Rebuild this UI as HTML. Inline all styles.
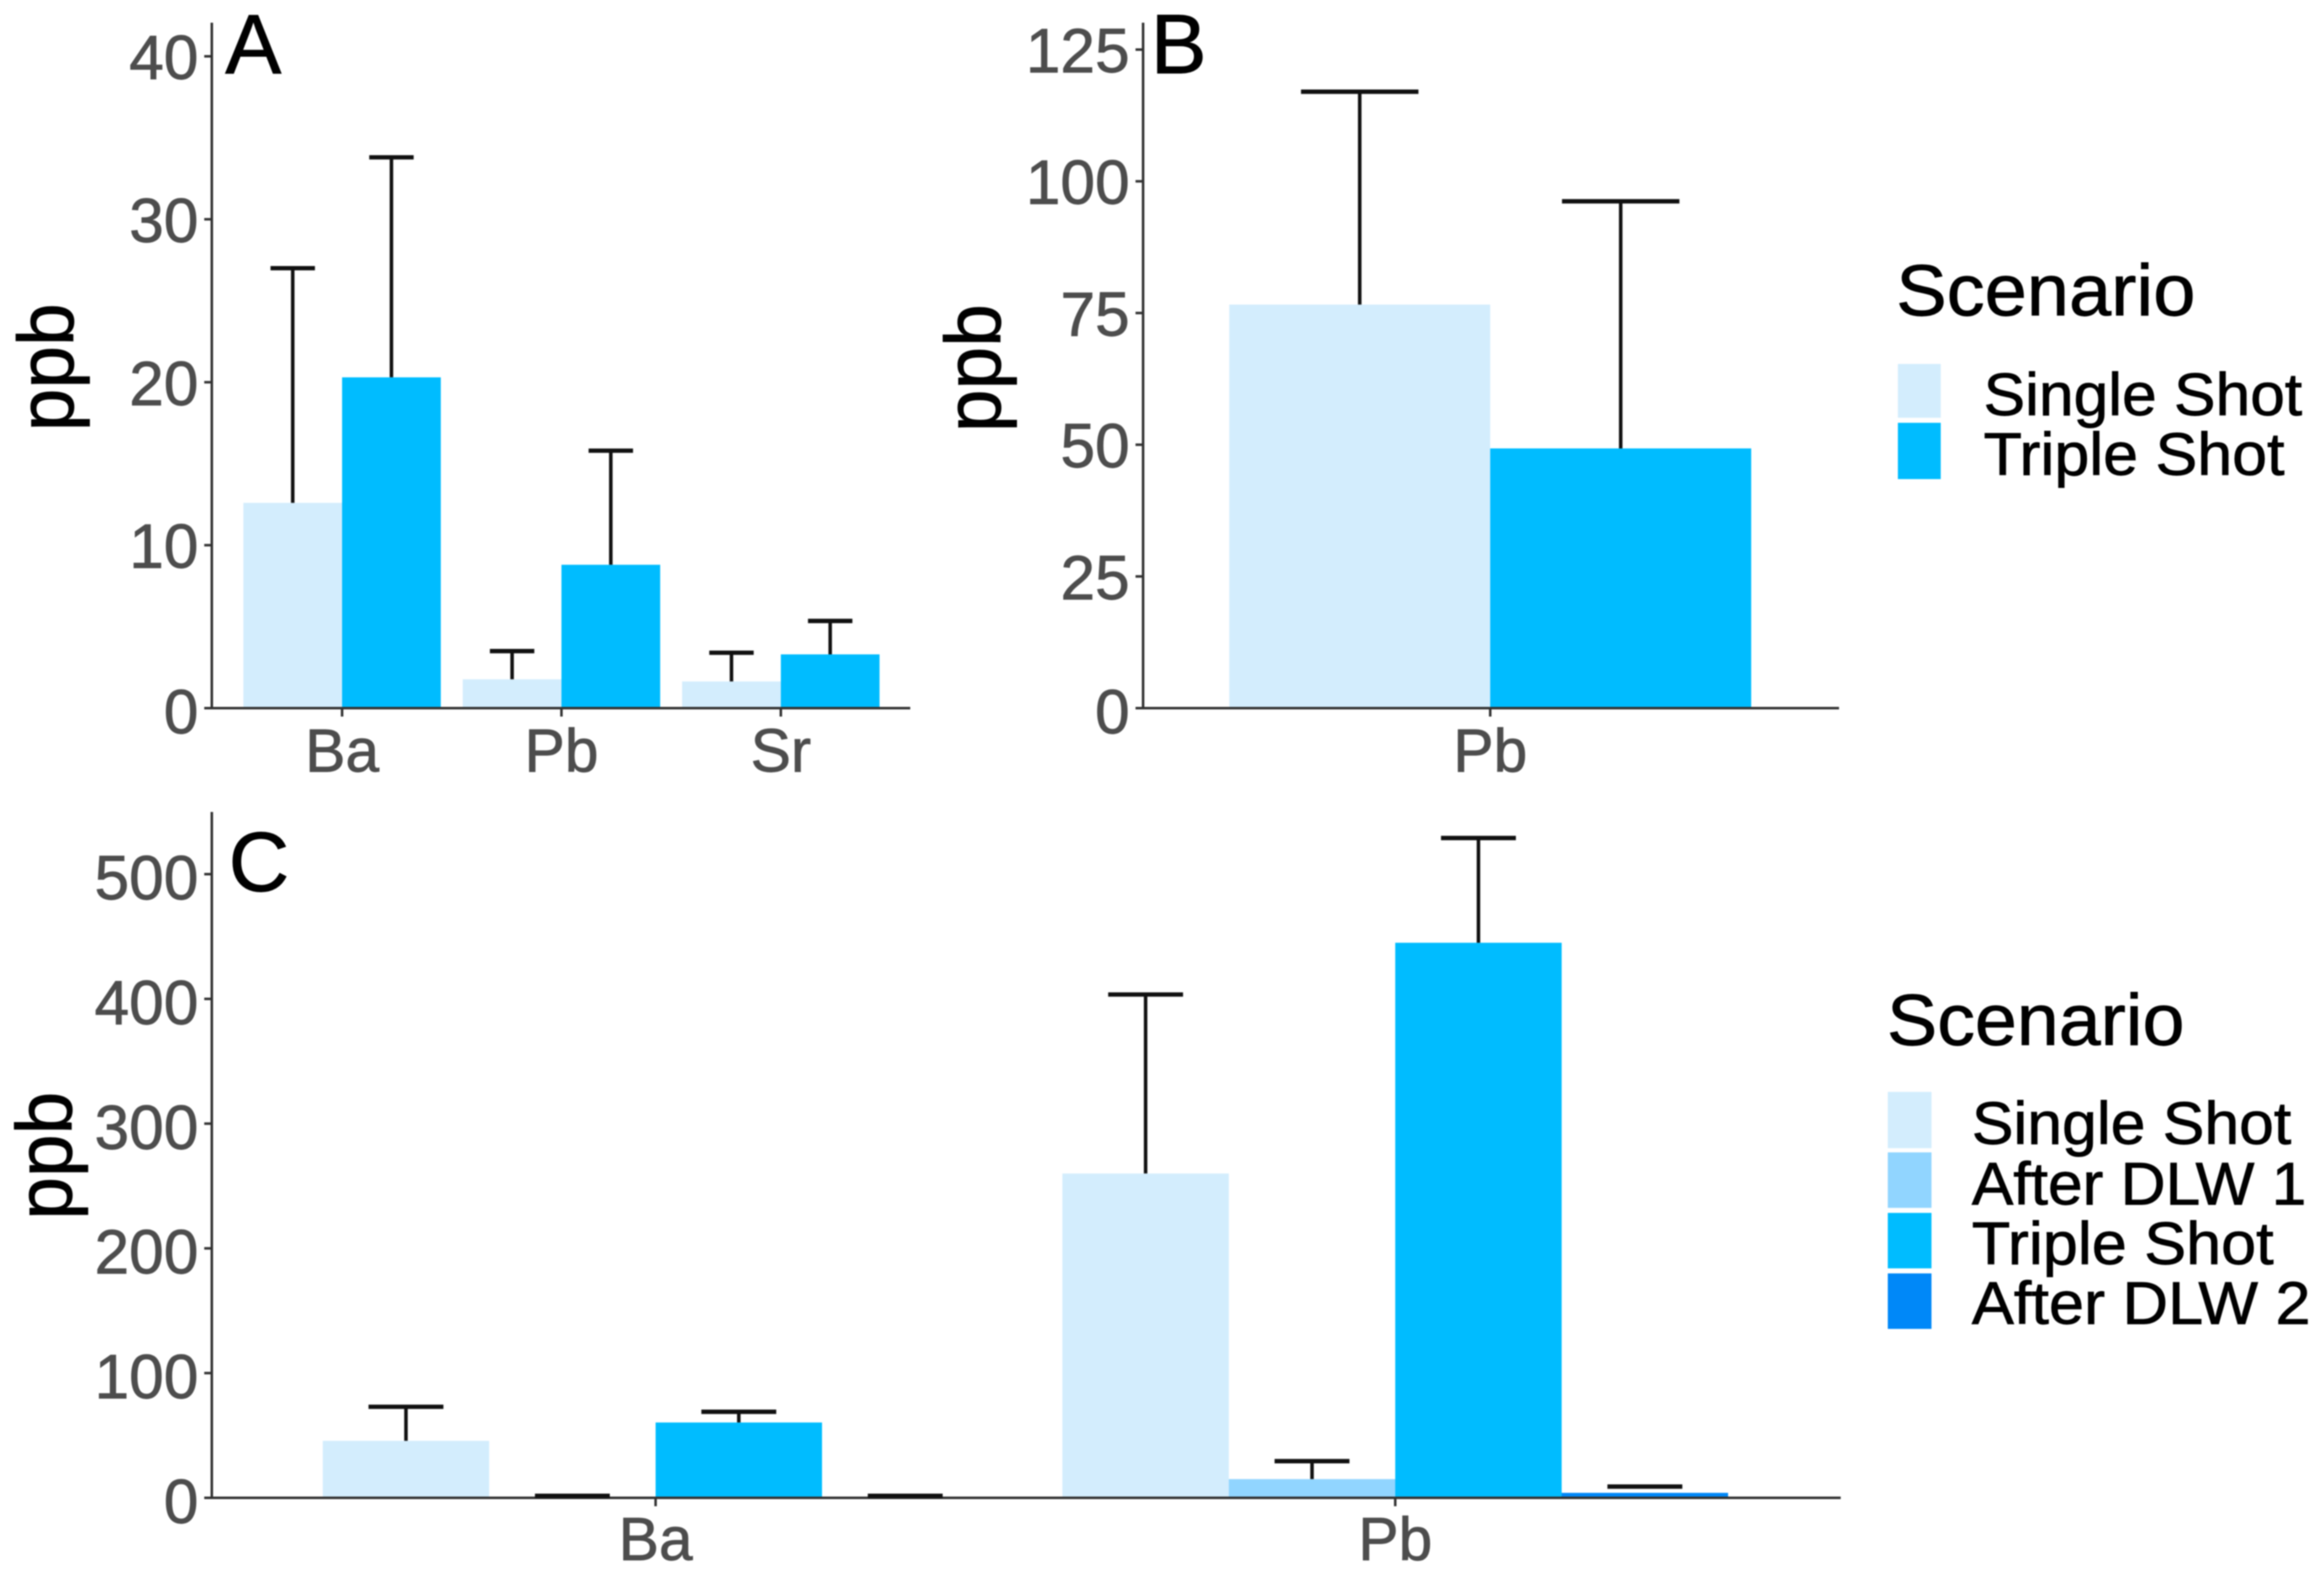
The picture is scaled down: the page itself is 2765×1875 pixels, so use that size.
<!DOCTYPE html>
<html lang="en">
<head>
<meta charset="utf-8">
<title>ppb by scenario, panels A to C</title>
<style>
html,body{margin:0;padding:0;background:#fff;}
svg{display:block;font-family:"Liberation Sans",Arial,sans-serif;filter:blur(0.7px);}
text{stroke-width:0.9px;paint-order:stroke;}
</style>
</head>
<body>
<svg id="chart" xmlns="http://www.w3.org/2000/svg" width="2765" height="1875" viewBox="0 0 2765 1875">
  <rect x="0" y="0" width="2765" height="1875" fill="#ffffff"/>
  <g id="panels"></g>

  <text x="268" y="87" font-size="100" fill="#000" stroke="#000">A</text>
  <text x="1369" y="87" font-size="100" fill="#000" stroke="#000">B</text>
  <text x="272" y="1060" font-size="100" fill="#000" stroke="#000">C</text>

  <g stroke="#000">
    <text x="2256" y="375" font-size="86" textLength="356" lengthAdjust="spacingAndGlyphs" fill="#000">Scenario</text>
    <rect x="2258" y="433" width="51" height="64" fill="#D3EDFD" stroke="none"/>
    <rect x="2258" y="503" width="51" height="67" fill="#00BCFF" stroke="none"/>
    <text x="2360" y="494" font-size="71" textLength="379" lengthAdjust="spacingAndGlyphs" fill="#000">Single Shot</text>
    <text x="2360" y="565" font-size="71" textLength="358" lengthAdjust="spacingAndGlyphs" fill="#000">Triple Shot</text>
  </g>

  <g stroke="#000">
    <text x="2245" y="1243" font-size="86" textLength="354" lengthAdjust="spacingAndGlyphs" fill="#000">Scenario</text>
    <rect x="2246" y="1299" width="52" height="67" fill="#D3EDFD" stroke="none"/>
    <rect x="2246" y="1371" width="52" height="66" fill="#91D5FF" stroke="none"/>
    <rect x="2246" y="1443" width="52" height="66" fill="#00BCFF" stroke="none"/>
    <rect x="2246" y="1515" width="52" height="66" fill="#0088F8" stroke="none"/>
    <text x="2346" y="1361" font-size="71" textLength="380" lengthAdjust="spacingAndGlyphs" fill="#000">Single Shot</text>
    <text x="2346" y="1433" font-size="71" textLength="398" lengthAdjust="spacingAndGlyphs" fill="#000">After DLW 1</text>
    <text x="2346" y="1504" font-size="71" textLength="359" lengthAdjust="spacingAndGlyphs" fill="#000">Triple Shot</text>
    <text x="2346" y="1575" font-size="71" textLength="403" lengthAdjust="spacingAndGlyphs" fill="#000">After DLW 2</text>
  </g>
</svg>

<script>
// Panel A data
const panelACategories = ['Ba', 'Pb', 'Sr'];
const panelASingleShot = [12.6, 1.77, 1.64];
const panelASingleShotUpper = [27.0, 3.5, 3.4];
const panelATripleShot = [20.3, 8.8, 3.3];
const panelATripleShotUpper = [33.8, 15.8, 5.35];
const panelATicks = [0, 10, 20, 30, 40];

// Panel B data
const panelBCategories = ['Pb'];
const panelBSingleShot = [76.6];
const panelBSingleShotUpper = [117];
const panelBTripleShot = [49.3];
const panelBTripleShotUpper = [96.2];
const panelBTicks = [0, 25, 50, 75, 100, 125];

// Panel C data
const panelCCategories = ['Ba', 'Pb'];
const panelCSingleShot = [45.7, 260];
const panelCSingleShotUpper = [73, 403.5];
const panelCAfterDlw1 = [0.5, 15];
const panelCAfterDlw1Upper = [1.6, 29.4];
const panelCTripleShot = [60.4, 445];
const panelCTripleShotUpper = [69, 529];
const panelCAfterDlw2 = [0.5, 4];
const panelCAfterDlw2Upper = [1.6, 9];
const panelCTicks = [0, 100, 200, 300, 400, 500];

const COLOR_SINGLE = '#D3EDFD';
const COLOR_DLW1 = '#91D5FF';
const COLOR_TRIPLE = '#00BCFF';
const COLOR_DLW2 = '#0088F8';
const NS = 'http://www.w3.org/2000/svg';
const root = document.getElementById('panels');

function makeEl(tag, parent, name, interactable) {
  const el = document.createElementNS(NS, tag);
  
  
  parent.appendChild(el);
  return el;
}

function drawLine(parent, name, x1, y1, x2, y2, color, width) {
  const el = makeEl('line', parent, name, 'false');
  el.setAttribute('x1', x1);
  el.setAttribute('y1', y1);
  el.setAttribute('x2', x2);
  el.setAttribute('y2', y2);
  el.setAttribute('stroke', color);
  el.setAttribute('stroke-width', width);
  return el;
}

function drawText(parent, name, str, x, y, size, stretch, anchor, color) {
  const el = makeEl('text', parent, name, 'false');
  el.setAttribute('transform', 'translate(' + x + ',' + y + ') scale(' + stretch + ',1)');
  el.setAttribute('font-size', size);
  el.setAttribute('text-anchor', anchor);
  el.setAttribute('fill', color);
  el.setAttribute('stroke', color);
  el.textContent = str;
  return el;
}

function drawPanel(cfg) {
  const g = makeEl('g', root, cfg.id, 'false');
  // axis functions: data value -> pixel
  const yPos = function (v) { return cfg.yZero - (v / cfg.yRef) * (cfg.yZero - cfg.yRefPixel); };
  const xCenter = function (i) { return cfg.firstCenter + i * cfg.step; };
  const barW = 0.9 * cfg.step / cfg.series.length;

  // bars
  cfg.series.forEach(function (s, si) {
    s.values.forEach(function (v, i) {
      const left = xCenter(i) - 0.45 * cfg.step + si * barW;
      const bar = makeEl('rect', g, cfg.id + '-bar-' + s.key + '-' + cfg.categories[i].toLowerCase(), 'false');
      bar.setAttribute('x', left);
      bar.setAttribute('y', yPos(v));
      bar.setAttribute('width', barW);
      bar.setAttribute('height', cfg.yZero - yPos(v));
      bar.setAttribute('fill', s.color);
    });
  });

  // y axis line, ticks and labels
  drawLine(g, cfg.id + '-y-axis', cfg.xLeft, cfg.yTop, cfg.xLeft, cfg.yZero + 1.5, '#333333', 3);
  cfg.ticks.forEach(function (t) {
    const y = yPos(t);
    drawLine(g, cfg.id + '-y-tick-' + t, cfg.xLeft - 9, y, cfg.xLeft, y, '#333333', 3);
    drawText(g, cfg.id + '-y-tick-label-' + t, String(t), cfg.xLeft - 16, y + (t === 0 ? 30 : cfg.tickDy), 74, cfg.tickStretch, 'end', '#4d4d4d');
  });

  // x axis line, ticks and labels
  drawLine(g, cfg.id + '-x-axis', cfg.xLeft - 9, cfg.yZero, cfg.xRight, cfg.yZero, '#333333', 3);
  cfg.categories.forEach(function (c, i) {
    const x = xCenter(i);
    drawLine(g, cfg.id + '-x-tick-' + c.toLowerCase(), x, cfg.yZero, x, cfg.yZero + 10, '#333333', 3);
    drawText(g, cfg.id + '-x-label-' + c.toLowerCase(), c, x, cfg.xLabelY, 72, 1, 'middle', '#4d4d4d');
  });

  // error bars
  const capW = 0.45 * barW;
  cfg.series.forEach(function (s, si) {
    s.upper.forEach(function (u, i) {
      const cx = xCenter(i) - 0.45 * cfg.step + (si + 0.5) * barW;
      const key = cfg.id + '-error-' + s.key + '-' + cfg.categories[i].toLowerCase();
      if (yPos(s.values[i]) - yPos(u) > 12) {
        drawLine(g, key + '-stem', cx, yPos(s.values[i]), cx, yPos(u), '#111111', 4.2);
      }
      drawLine(g, key + '-cap', cx - capW / 2, yPos(u), cx + capW / 2, yPos(u), '#111111', 5.2);
    });
  });

  // y-axis title
  const title = drawText(g, cfg.id + '-y-axis-title', 'ppb', 0, 0, 94, 0.97, 'middle', '#000000');
  title.setAttribute('transform', 'translate(' + cfg.titleX + ',' + cfg.titleY + ') rotate(-90) scale(0.97,1)');
}

drawPanel({
  id: 'panel-a', categories: panelACategories, ticks: panelATicks,
  yRef: 40, yRefPixel: 67, yZero: 842.5, yTop: 27, xLeft: 252, xRight: 1083,
  firstCenter: 407, step: 261, xLabelY: 918, tickStretch: 1, tickDy: 27, titleX: 87, titleY: 437,
  series: [
    { key: 'single-shot', color: COLOR_SINGLE, values: panelASingleShot, upper: panelASingleShotUpper },
    { key: 'triple-shot', color: COLOR_TRIPLE, values: panelATripleShot, upper: panelATripleShotUpper }
  ]
});

drawPanel({
  id: 'panel-b', categories: panelBCategories, ticks: panelBTicks,
  yRef: 125, yRefPixel: 59, yZero: 842.5, yTop: 27, xLeft: 1360, xRight: 2188,
  firstCenter: 1773, step: 690, xLabelY: 918, tickStretch: 1, tickDy: 27, titleX: 1190, titleY: 438,
  series: [
    { key: 'single-shot', color: COLOR_SINGLE, values: panelBSingleShot, upper: panelBSingleShotUpper },
    { key: 'triple-shot', color: COLOR_TRIPLE, values: panelBTripleShot, upper: panelBTripleShotUpper }
  ]
});

drawPanel({
  id: 'panel-c', categories: panelCCategories, ticks: panelCTicks,
  yRef: 500, yRefPixel: 1040, yZero: 1782, yTop: 966, xLeft: 252, xRight: 2190,
  firstCenter: 780, step: 880, xLabelY: 1856, tickStretch: 1, tickDy: 30, titleX: 85, titleY: 1375,
  series: [
    { key: 'single-shot', color: COLOR_SINGLE, values: panelCSingleShot, upper: panelCSingleShotUpper },
    { key: 'after-dlw-1', color: COLOR_DLW1, values: panelCAfterDlw1, upper: panelCAfterDlw1Upper },
    { key: 'triple-shot', color: COLOR_TRIPLE, values: panelCTripleShot, upper: panelCTripleShotUpper },
    { key: 'after-dlw-2', color: COLOR_DLW2, values: panelCAfterDlw2, upper: panelCAfterDlw2Upper }
  ]
});
</script>
</body>
</html>
